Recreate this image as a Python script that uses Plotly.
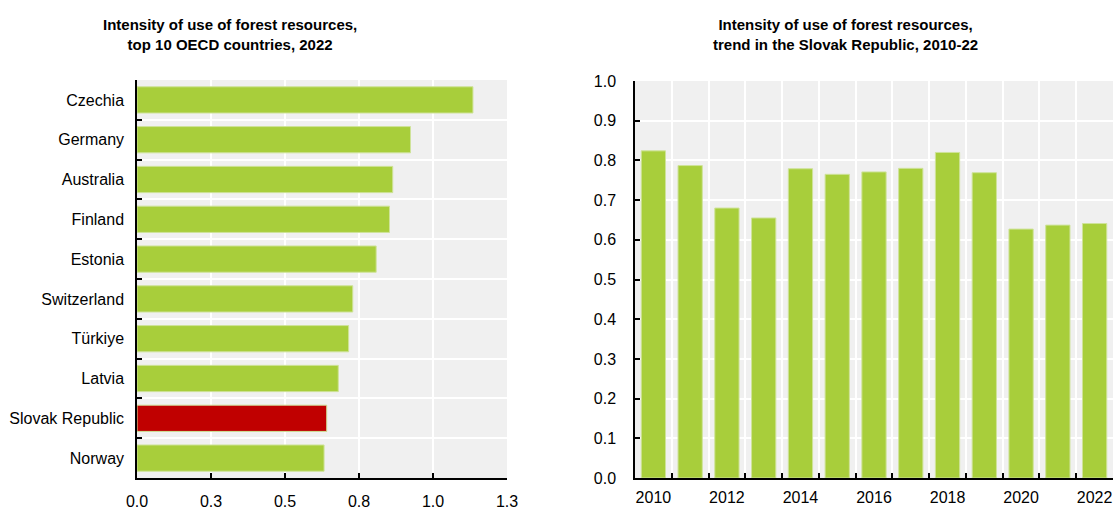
import plotly.graph_objects as go

# Top 10 OECD countries, 2022
countries = ["Czechia", "Germany", "Australia", "Finland", "Estonia",
             "Switzerland", "Türkiye", "Latvia", "Slovak Republic", "Norway"]
intensity_2022 = [1.135, 0.924, 0.864, 0.853, 0.808, 0.729, 0.715, 0.680, 0.641, 0.632]

# Slovak Republic trend, 2010-22
years = ["2010", "2011", "2012", "2013", "2014", "2015", "2016",
         "2017", "2018", "2019", "2020", "2021", "2022"]
slovak_trend = [0.824, 0.787, 0.680, 0.655, 0.779, 0.765, 0.771,
                0.780, 0.820, 0.769, 0.627, 0.637, 0.641]

left_ticks = [0.0, 0.25, 0.5, 0.75, 1.0, 1.25]
left_ticktext = ["0.0", "0.3", "0.5", "0.8", "1.0", "1.3"]
year_ticktext = [y if int(y) % 2 == 0 else "" for y in years]

GREEN = "#a8ce3b"
RED = "#c00000"
BG = "#f0f0f0"
FONT = "Liberation Sans, Arial, sans-serif"

W, H = 1113, 510


def fx(px):
    return px / W


def fy(py):
    return (H - py) / H


bar_colors = [RED if c == "Slovak Republic" else GREEN for c in countries]

fig = go.Figure()
fig.add_trace(go.Bar(
    x=intensity_2022, y=countries, orientation="h",
    marker=dict(color=bar_colors, line=dict(color="#cfe39a", width=1)),
    xaxis="x", yaxis="y", showlegend=False,
))
fig.add_trace(go.Bar(
    x=years, y=slovak_trend,
    marker=dict(color=GREEN, line=dict(color="#cfe39a", width=1)),
    xaxis="x2", yaxis="y2", showlegend=False,
))

axis_common = dict(
    showline=True, linecolor="black", linewidth=1.5,
    ticks="inside", ticklen=5, tickcolor="black", tickwidth=1.5,
    showgrid=True, gridcolor="white", gridwidth=2,
    zeroline=False, automargin=False,
    tickfont=dict(family=FONT, size=16, color="#000000"),
)

fig.update_layout(
    width=W, height=H,
    margin=dict(l=0, r=0, t=0, b=0),
    paper_bgcolor="white",
    plot_bgcolor=BG,
    bargap=0.34,
    font=dict(family=FONT, size=16, color="#000000"),
    xaxis=dict(
        domain=[fx(137), fx(507)], anchor="y",
        range=[0, 1.25], tickmode="array",
        tickvals=left_ticks, ticktext=left_ticktext,
        ticklabelstandoff=8,
        **axis_common,
    ),
    yaxis=dict(
        domain=[fy(478), fy(80)], anchor="x",
        type="category", categoryorder="array",
        categoryarray=countries[::-1],
        tickson="boundaries",
        ticklabelstandoff=8,
        **axis_common,
    ),
    xaxis2=dict(
        domain=[fx(635), 1.0], anchor="y2",
        type="category", tickmode="array",
        tickvals=years, ticktext=year_ticktext,
        tickson="boundaries", tickangle=0,
        ticklabelstandoff=4,
        **axis_common,
    ),
    yaxis2=dict(
        domain=[fy(478), fy(81)], anchor="x2",
        range=[0, 1.0], dtick=0.1, tickformat=".1f",
        ticklabelstandoff=14,
        **axis_common,
    ),
)

title_font = dict(family=FONT, size=15, color="#000000")
fig.add_annotation(
    text="<b>Intensity of use of forest resources,<br>top 10 OECD countries, 2022</b>",
    x=fx(230), y=fy(14), xref="paper", yref="paper",
    xanchor="center", yanchor="top", showarrow=False,
    font=title_font, align="center",
)
fig.add_annotation(
    text="<b>Intensity of use of forest resources,<br>trend in the Slovak Republic, 2010-22</b>",
    x=fx(845), y=fy(14), xref="paper", yref="paper",
    xanchor="center", yanchor="top", showarrow=False,
    font=title_font, align="center",
)

fig.write_html("out.html")
